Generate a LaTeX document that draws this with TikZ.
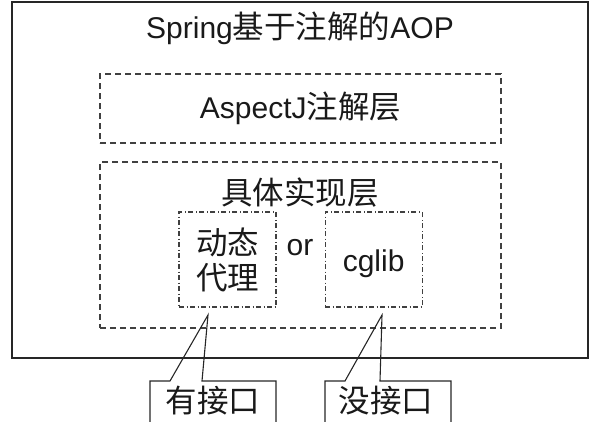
\documentclass[tikz,border=0pt]{standalone}
\usepackage{fontspec}
\setmainfont{Liberation Sans}
\newfontfamily\cjk[Scale=1.05]{Noto Sans CJK SC}
\usetikzlibrary{positioning}
\tikzset{
x=1pt, y=-1pt, % pixel grid, y runs downwards
every node/.style={font=\fontsize{30}{35}\selectfont, text=black!90, inner sep=0pt},
framebox/.style={draw=black!85, line width=1.6pt}, % the outer frame
layerbox/.style={draw=black!75, line width=1.3pt, dash pattern=on 6pt off 4pt}, % the two layers
implbox/.style={draw=black!75, line width=1.1pt, dash pattern=on 5pt off 2.5pt on 1pt off 2.5pt}, % the two implementations
tagline/.style={draw=black!85, line width=1.1pt}, % the callouts
}
\begin{document}
\begin{tikzpicture}
                \useasboundingbox (0,0) rectangle (596,421);
                \node[framebox, minimum width=576pt, minimum height=356pt] (aop) at (300,180) {};
                \node (title) at (300,28) {Spring{\cjk 基于注解的}AOP};
                \node[layerbox, minimum width=401pt, minimum height=69pt] (aspectj) at (300.5,108.5) {AspectJ{\cjk 注解层}};
                \node[layerbox, minimum width=401pt, minimum height=166pt] (impl) at (300.5,245) {};
                \node (impltext) at (300,193) {\cjk 具体实现层};
                \node[implbox, minimum width=97pt, minimum height=95pt] (proxy) at (227.5,259.5) {};
                \node[align=center] at (proxy) {\cjk 动态\\\cjk 代理};
                \node[implbox, minimum width=97pt, minimum height=95pt, right=48pt of proxy] (cglib) {};
                \node at ([yshift=-4pt]cglib) {cglib};
                \node (or) at (300,248) {or};
                \coordinate (tip1) at (208,315);
                \coordinate (tip2) at (382,315);
                \begin{scope}
                \clip (0,0) rectangle (596,421);
                \draw[tagline] (150,440) -- (150,381) -- (170,381) -- (tip1) -- (202,381) -- (276,381) -- (276,440);
                \draw[tagline] (325,440) -- (325,381) -- (345,381) -- (tip2) -- (380,381) -- (451,381) -- (451,440);
                \end{scope}
                \node (tag1) at (213,401) {\cjk 有接口};
                \node (tag2) at (386,401) {\cjk 没接口};
                \end{tikzpicture}
\end{document}
